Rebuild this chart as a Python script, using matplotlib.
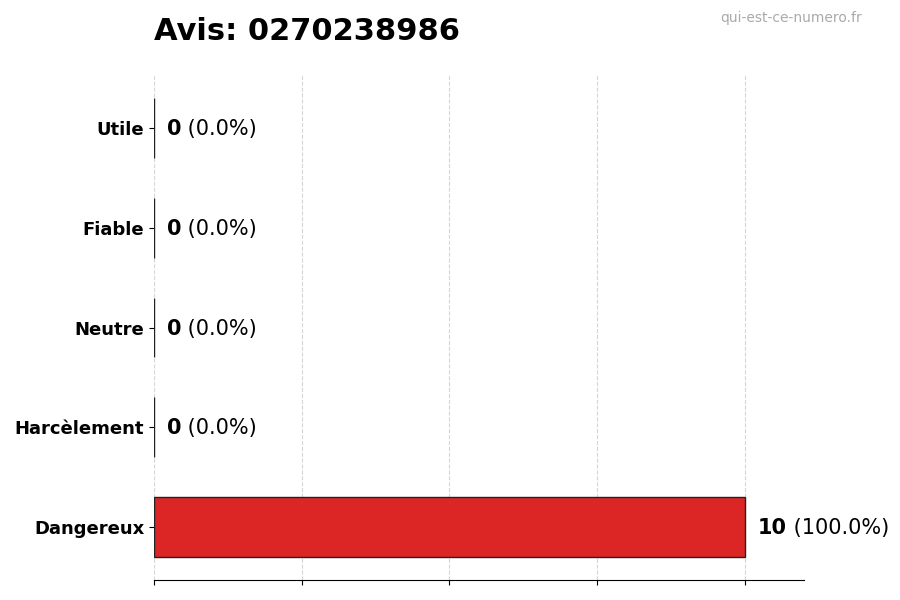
import matplotlib
matplotlib.use("Agg")
from matplotlib import pyplot as plt

categories = ["Dangereux", "Harcèlement", "Neutre", "Fiable", "Utile"]
counts = [10, 0, 0, 0, 0]
title_text = "Avis: 0270238986"
watermark = "qui-est-ce-numero.fr"

total = sum(counts)
colors = ["#dc2626", "#f97316", "#9ca3af", "#3b82f6", "#16a34a"]

fig = plt.figure(figsize=(9, 6), dpi=100)
ax = fig.add_axes([0.171, 0.0333, 0.722, 0.8417])

bars = ax.barh(range(len(categories)), counts, height=0.6, color=colors,
               edgecolor="#222222", linewidth=1, zorder=3)

ax.set_xlim(0, 11)
ax.set_xticks([0, 2.5, 5, 7.5, 10])
ax.set_xticklabels([])
ax.set_yticks(range(len(categories)))
ax.set_yticklabels(categories, fontsize=13, fontweight="bold")
ax.grid(axis="x", linestyle="--", color="#cccccc", alpha=0.8, zorder=0)
ax.set_axisbelow(True)

for s in ["top", "right", "left"]:
    ax.spines[s].set_visible(False)

# valeur en gras + pourcentage
for i, v in enumerate(counts):
    pct = v / total * 100 if total else 0
    t = ax.text(v + 0.22, i - 0.01, str(v), fontsize=15, fontweight="bold", va="center", ha="left")
    ax.annotate(" (%.1f%%)" % pct, xy=(1, 0), xycoords=t, va="bottom", ha="left", fontsize=15)

fig.text(0.171, 0.947, title_text, fontsize=22, fontweight="bold", ha="left", va="center")
fig.text(0.958, 0.97, watermark, fontsize=10, color="#aaaaaa", ha="right", va="center")

plt.savefig("out.png")
